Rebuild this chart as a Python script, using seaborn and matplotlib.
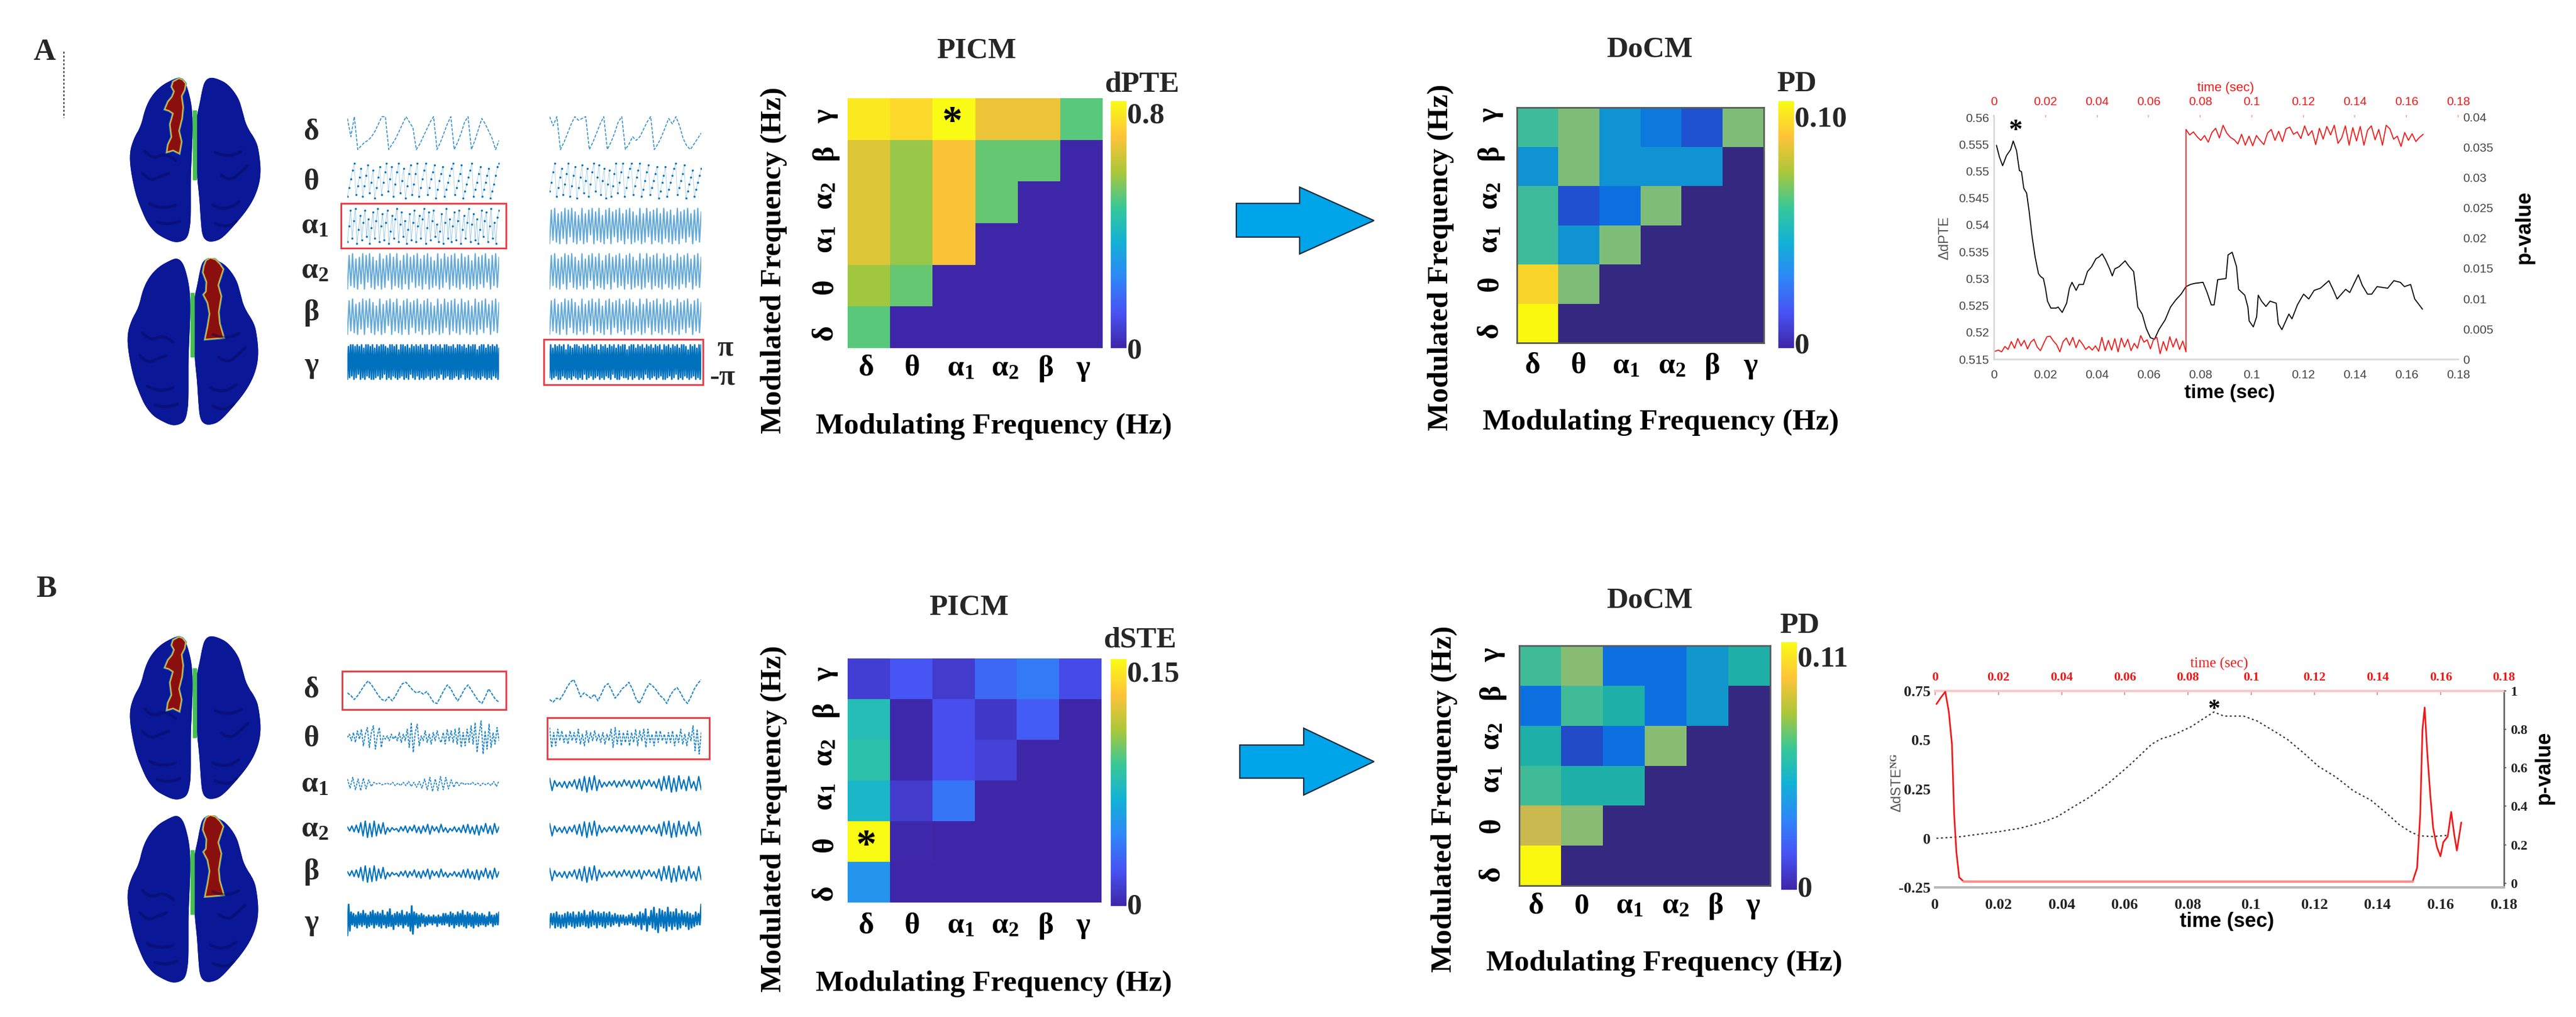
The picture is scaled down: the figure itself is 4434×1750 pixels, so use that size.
import numpy as np
import pandas as pd
import seaborn as sns
import matplotlib
matplotlib.use("Agg")
import matplotlib.pyplot as plt
from matplotlib.cm import ScalarMappable
from matplotlib.colors import LinearSegmentedColormap, Normalize
from matplotlib.patches import Rectangle, Polygon

# ---------- heatmap values (rows top to bottom: gamma..delta) ----------
x_bands = ["δ", "θ", r"$\mathrm{\alpha_1}$", r"$\mathrm{\alpha_2}$", "β", "γ"]
x_bands_b = ["δ", "0", r"$\mathrm{\alpha_1}$", r"$\mathrm{\alpha_2}$", "β", "γ"]
y_bands = ["γ", "β", r"$\mathrm{\alpha_2}$", r"$\mathrm{\alpha_1}$", "θ", "δ"]

picm_a = [[.76, .73, .80, .66, .66, .49],
          [.64, .55, .68, .50, .50, 0],
          [.64, .55, .68, .50, 0, 0],
          [.64, .55, .68, 0, 0, 0],
          [.56, .50, 0, 0, 0, 0],
          [.49, 0, 0, 0, 0, 0]]
docm_a = [[.056, .066, .036, .028, .016, .066],
          [.036, .066, .036, .036, .036, 0],
          [.056, .015, .025, .066, 0, 0],
          [.056, .036, .066, 0, 0, 0],
          [.093, .066, 0, 0, 0, 0],
          [.100, 0, 0, 0, 0, 0]]
picm_b = [[.012, .0225, .0105, .030, .0375, .018],
          [.075, .0015, .0195, .009, .0255, 0],
          [.0795, .0015, .0195, .0135, 0, 0],
          [.069, .0105, .036, 0, 0, 0],
          [.150, .0015, 0, 0, 0, 0],
          [.0495, 0, 0, 0, 0, 0]]
docm_b = [[.062, .074, .0275, .0275, .042, .055],
          [.0275, .062, .055, .0275, .042, 0],
          [.055, .015, .0275, .074, 0, 0],
          [.062, .055, .055, 0, 0, 0],
          [.086, .074, 0, 0, 0, 0],
          [.110, 0, 0, 0, 0, 0]]

# ---------- time courses ----------
a_t = [.0010,.0021,.0034,.0049,.0065,.0075,.0088,.0099,.0107,.0116,.0127,.0137,.0148,.0160,.0173,.0181,.0192,.0200,.0208,.0221,.0241,.0249,.0265,.0282,.0293,.0303,.0319,.0330,.0347,.0363,.0379,.0396,.0407,.0420,.0433,.0449,.0459,.0469,.0485,.0509,.0522,.0542,.0550,.0558,.0575,.0591,.0607,.0623,.0640,.0664,.0685,.0705,.0726,.0745,.0762,.0778,.0811,.0827,.0843,.0854,.0868,.0900,.0908,.0924,.0941,.0949,.0973,.0985,.0990,.1006,.1019,.1025,.1038,.1055,.1071,.1095,.1103,.1117,.1144,.1156,.1177,.1201,.1221,.1242,.1266,.1299,.1315,.1331,.1364,.1380,.1413,.1429,.1449,.1465,.1486,.1527,.1551,.1576,.1592,.1616,.1632,.1662]
a_dpte = [.5548,.5527,.5510,.5529,.5540,.5556,.5538,.5501,.5499,.5468,.5459,.5424,.5379,.5340,.5309,.5304,.5300,.5282,.5258,.5245,.5245,.5247,.5237,.5254,.5282,.5293,.5278,.5289,.5289,.5313,.5322,.5337,.5340,.5346,.5335,.5318,.5305,.5318,.5322,.5333,.5324,.5313,.5282,.5247,.5234,.5207,.5190,.5187,.5205,.5223,.5247,.5260,.5271,.5285,.5289,.5291,.5293,.5274,.5251,.5251,.5298,.5300,.5344,.5349,.5322,.5280,.5269,.5247,.5221,.5210,.5229,.5269,.5258,.5248,.5258,.5254,.5216,.5205,.5234,.5225,.5251,.5271,.5262,.5278,.5282,.5296,.5280,.5262,.5280,.5274,.5307,.5287,.5271,.5271,.5285,.5282,.5296,.5293,.5285,.5289,.5262,.5243]
a_p_low = [1.3,1.5,1.2,2.1,1.6,2.9,1.8,3.4,2.2,3.1,1.7,2.8,3.3,2.0,1.4,2.6,3.7,3.8,3.0,2.4,1.2,2.9,3.5,2.3,3.6,1.9,3.2,2.5,1.6,2.1,1.5,2.2,1.3,3.6,1.4,3.1,1.5,3.4,1.2,3.5,2.0,3.3,1.4,2.6,1.8,3.9,2.8,3.2,1.7,3.3,3.6,0.9,2.9,1.4,3.7,2.0,3.4,1.6,3.0,1.2]
a_p_high = [38.0,37.1,37.6,36.8,36.2,37.0,35.9,37.5,38.2,36.6,38.7,37.4,36.7,36.3,35.6,37.2,35.4,36.9,35.3,37.0,36.2,35.5,37.4,38.0,36.2,37.7,36.0,38.1,38.4,37.2,37.6,36.5,38.6,37.0,37.8,35.5,38.2,36.4,38.5,37.1,38.7,35.7,36.6,38.6,35.4,38.3,36.1,38.5,35.4,37.9,38.6,36.3,38.0,35.4,38.7,38.1,36.4,36.9,35.2,37.5,36.2,37.3,36.0,36.7,37.2]
a_jump_t = .0745

b_t = [.0004,.0074,.0129,.0199,.0268,.0338,.0386,.0435,.0490,.0546,.0615,.0685,.0713,.0754,.0810,.0844,.0882,.0914,.0976,.1018,.1074,.1115,.1164,.1213,.1268,.1324,.1379,.1428,.1469,.1504,.1532,.1574,.1622]
b_dste = [.000,.007,.019,.033,.051,.081,.110,.158,.211,.277,.372,.479,.505,.526,.568,.604,.643,.622,.622,.598,.544,.503,.437,.366,.312,.241,.194,.128,.069,.033,.013,.009,.015]
b_p_t = [.0004,.0018,.0032,.0043,.0053,.0060,.0067,.0076,.0090,.1511,.1525,.1535,.1542,.1549,.1557,.1567,.1576,.1588,.1599,.1608,.1622,.1633,.1643,.1651,.1665]
b_p = [.932,.966,.996,.893,.723,.358,.164,.030,.009,.009,.079,.358,.796,.914,.686,.456,.286,.188,.140,.213,.243,.371,.249,.170,.316]

time_ticks = [0, .02, .04, .06, .08, .1, .12, .14, .16, .18]
time_labels = ["0", "0.02", "0.04", "0.06", "0.08", "0.1", "0.12", "0.14", "0.16", "0.18"]
a_left_ticks = [.515, .52, .525, .53, .535, .54, .545, .55, .555, .56]
a_left_labels = ["0.515", "0.52", "0.525", "0.53", "0.535", "0.54", "0.545", "0.55", "0.555", "0.56"]
a_right_ticks = [0, .005, .01, .015, .02, .025, .03, .035, .04]
a_right_labels = ["0", "0.005", "0.01", "0.015", "0.02", "0.025", "0.03", "0.035", "0.04"]
b_left_ticks = [-.25, 0, .25, .5, .75]
b_left_labels = ["-0.25", "0", "0.25", "0.5", "0.75"]
b_right_ticks = [0, .2, .4, .6, .8, 1]
b_right_labels = ["0", "0.2", "0.4", "0.6", "0.8", "1"]

# ---------- phase / amplitude traces, scale -10..10 ----------
pa_delta_l = [8,-2,9,-9,-7,-5,-4,-2,1,5,9,9,-9,-6,-3,1,5,9,6,3,-9,-6,-2,2,6,9,-9,-5,0,5,9,-9,-5,0,6,9,-9,-4,2,8,5,1,-3,-9,-4]
pa_delta_r = [9,4,9,-9,-5,0,5,9,7,8,9,-9,-5,0,5,9,-9,-5,0,6,9,-9,-6,-2,-4,-2,2,6,9,-9,-6,-2,3,8,5,9,4,-3,-7,-9,-6,-3,0]
pa_theta_l = [-9,-4,1,6,10,-8,-3,2,7,-9,-3,3,9,-7,-1,6,-10,-4,2,8,-8,-1,5,10,-6,1,8,-9,-2,5,10,-7,0,7,-10,-3,4,9,-8,-2,4,10,-9,-4,1,6,10,-8,-4,1,5,9,-10,-5,0,4,8,-9,-5,-1,3,7,10,-8,-4,0,4,9,-10,-6,-2,2,6,10,-9,-5,-1,4,8,-9,-5,-1,3,7,-10,-6,-2,3,8,10]
pa_theta_r = [-6,-1,5,10,-9,-4,2,7,-8,-2,4,10,-9,-3,3,8,-10,-4,2,9,-7,0,7,-9,-2,5,10,-6,2,9,-8,0,7,-10,-2,6,-9,-3,4,10,-7,-1,5,10,-9,-4,2,7,10,-8,-3,2,6,10,-9,-5,0,5,9,-8,-4,0,4,8,-10,-6,-1,3,8,-9,-5,-1,3,7,10,-8,-4,0,4,9,-10,-6,-2,2,6,-9,-5,-1,3,7]
pa_alpha1_l = [-9,0,9,-7,3,10,-10,-2,6,-8,2,9,-6,4,-10,-1,8,-7,3,10,-9,0,7,-8,2,9,-10,-3,6,-7,4,10,-9,1,8,-6,3,-10,-2,7,-8,2,9,-9,0,6,-7,4,10,-10,-1,8,-8,3,9,-6,1,-9,-3,7,-10,2,10,-7,4,-9,0,8,-8,3,9,-10,-2,6,-7,2,10,-9,1,7,-8,4,-10,-2,9,-6,3,8,-9,0,10,-7,2,-10,5,9]
pa_alpha2 = [-10,9,-8,10,-9,7,-10,8,-7,10,-10,9,-6,10,-9,8,-10,6,-8,10,-10,7,-9,9,-5,10,-10,8,-8,10,-9,6,-10,9,-7,10,-10,8,-6,9,-9,10,-8,7,-10,9,-7,10,-10,8,-9,6,-8,10,-10,7,-9,10,-6,8,-10,9,-8,10,-9,7,-10,10,-7,8,-9,9,-10,6,-8,10,-10,8,-7,9,-9,10,-6,7,-10,9,-8,10,-9,8]
pa_gamma_l = [-10,9,-9,10,-8,10,-10,9,-9,10,-7,9,-10,10,-9,8,-10,10,-8,10,-9,9,-10,10,-10,8,-9,10,-8,9,-10,10,-9,10,-7,9,-10,8,-9,10,-10,10,-8,9,-9,10,-10,7,-9,10,-8,10,-10,9,-9,10,-10,8,-7,10,-9,9,-10,10,-8,9,-10,10,-9,8,-10,10,-9,10,-8,7,-10,10,-9,9,-8,10,-10,9,-9,10,-7,8,-10,10,-9,10,-8,9,-10,9,-10,10,-9,8,-8,10,-10,10,-9,9,-7,10,-10,8,-9,10,-10,9,-8,10,-9,10,-10,7,-9,9,-10,10,-8,10,-9,8,-10,10,-9,9,-10,10,-8,9,-9,10,-10,8]
pa_gamma_r = [-9,10,-10,8,-9,10,-8,9,-10,10,-10,9,-8,10,-9,7,-10,10,-9,9,-10,8,-8,10,-9,10,-10,9,-9,8,-10,10,-7,9,-10,10,-9,8,-8,10,-10,9,-9,10,-8,7,-10,10,-9,9,-10,10,-8,8,-9,10,-10,9,-7,10,-9,8,-10,10,-10,9,-8,10,-9,10,-9,7,-10,9,-8,10,-10,10,-9,8,-8,10,-10,9,-9,10,-10,8,-7,10,-9,9,-10,10,-9,8,-8,10,-10,9,-9,10,-8,7,-10,10,-10,9,-9,10,-8,8,-10,10,-9,9,-7,10,-10,8,-9,10,-10,10,-8,9,-9,7,-10,10,-9,9,-8,10,-10,8,-9,10,-10,10]

pb_delta_l = [-1,-3,-6,-3,1,5,8,5,1,-3,-6,-7,-4,-7,-3,2,6,7,4,1,-1,0,-2,0,-4,-8,-9,-4,1,5,2,-3,-7,-3,2,5,1,-3,-7,-9,-4,2,-2,-6,-8]
pb_delta_r = [-6,-8,-5,-6,-2,3,7,9,3,-4,-1,-3,-5,-2,-7,-2,4,6,1,-5,-2,2,4,7,2,-5,-9,-4,2,6,4,1,-3,-5,-9,-3,1,3,-1,-6,-9,-4,2,6,9]
pb_theta_l = [0,2,-2,3,-3,4,-1,5,-5,2,6,-6,3,7,-7,1,6,-6,1,-1,1,-2,2,-1,1,-2,3,-3,2,-2,5,-6,9,-9,3,8,-5,1,-2,4,-3,2,-4,3,-2,4,-1,-3,3,-4,5,-2,4,-3,5,-4,6,-6,3,-5,5,-3,7,-4,9,-9,2,10,-10,4,-7,8,-6,3,-4,6,-2]
pb_theta_r = [6,-6,3,-5,5,-2,4,-3,2,-4,4,-2,3,-3,5,-4,2,-5,4,-3,3,-2,4,-2,2,-3,3,-4,2,-2,5,-6,6,-4,4,-5,3,-3,4,-5,3,-3,5,-5,4,-2,5,-6,5,-3,2,-5,4,-3,4,-2,2,-4,3,-3,4,-5,2,-3,5,-4,2,-5,3,-2,7,-8,5,-10,3]
pb_alpha1_l = [6,-5,8,-7,6,-8,7,-6,5,-3,2,0,1,-1,0,1,-1,2,-2,1,-2,2,-2,3,-3,2,-4,3,-5,6,-7,8,-9,6,-8,9,-7,8,-6,5,-4,3,-2,2,-1,1,-1,2,-1,1,-2,1,-1,1,-2,3,-3,4]
pb_alpha2_l = [3,-2,4,-3,5,-4,8,-8,10,-10,7,-9,10,-8,6,-5,8,-6,2,-3,2,-1,1,-3,3,-2,4,-4,3,-2,5,-4,3,-5,4,-3,6,-6,4,-2,3,-4,6,-3,2,-4,1,-2,3,-3,2,-4,5,-4,6,-5,3,-6,5,-7,4,-3,7,-5,4,-6,7,-4,3]
pb_alpha_r = [7,-8,4,-3,2,-4,3,-5,3,-3,5,-6,6,-8,9,-10,8,-7,10,-8,5,-4,2,-3,3,-2,4,-4,3,-3,5,-2,4,-5,4,-3,5,-6,4,-2,5,-3,3,-5,6,-8,9,-6,10,-10,7,-9,10,-6,5,-8,9,-5,3,-8,9,-7]
pb_gamma_l = [-10,10,-7,5,-3,4,-4,3,-5,5,-3,4,-4,6,-3,4,-5,3,-4,5,-3,6,-5,4,-3,5,-4,4,-5,6,-3,3,-5,5,-4,7,-4,3,-6,4,-3,5,-4,4,-3,6,-5,3,-3,5,-4,4,-7,9,-9,5,-3,4,-5,3,-4,4,-2,3,-4,2,-3,3,-2,2,-3,3,-2,2,-4,3,-2,2,-3,4,-3,4,-2,3,-4,5,-3,4,-5,3,-3,5,-4,4,-3,6,-4,3,-5,5,-3,4,-4,3,-5,5,-3,4,-4,3,-3,4,-3,3,-4,2,-3,5,-2,3,-4,3,-3,4,-3,5]
pb_gamma_r = [-5,4,-3,4,-5,5,-4,3,-5,3,-4,4,-5,5,-3,4,-4,5,-5,3,-4,5,-4,4,-3,6,-4,3,-5,5,-4,6,-3,4,-5,5,-3,4,-4,5,-5,4,-3,5,-4,3,-3,4,-2,3,-4,3,-2,3,-3,2,-3,3,-2,4,-3,2,-4,3,-3,5,-6,4,-3,7,-7,2,-3,6,-5,8,-6,4,-8,7,-4,6,-5,5,-7,8,-4,5,-6,5,-4,7,-6,4,-5,6,-3,4,-4,5,-6,4,-5,3,-4,5,-3,4,-3,10]

# ---------- brain outlines (illustration, box 253 x 525) ----------
hem_l_x = [95,82,60,42,30,22,8,0,2,12,25,35,50,65,85,100,112,117,118,118,118,120,122,120,112,105]
hem_l_y = [0,8,28,60,100,155,195,240,295,375,430,465,495,510,525,523,510,470,435,375,315,240,155,90,35,10]
hem_r_x = [155,145,140,135,130,128,129,130,133,135,137,140,150,165,180,205,225,240,250,253,250,245,225,218,210,190,170]
hem_r_y = [0,12,40,85,120,155,240,315,360,395,450,505,523,522,510,465,425,385,340,295,245,205,155,110,65,22,5]
red_top_x = [95,84,81,86,82,74,68,76,84,78,81,74,72,84,96,100,95,101,103,100,106,108,102]
red_top_y = [4,14,30,45,62,78,102,106,115,150,190,215,238,232,242,205,170,130,95,60,40,20,8]
red_bot_x = [160,152,148,146,153,152,147,155,159,155,150,172,186,178,176,181,175,181,185,178,170]
red_bot_y = [0,8,25,45,75,105,115,140,175,215,255,252,250,205,170,120,85,55,35,18,5]
sulcus_x = [[15,40,60,85],[20,45,70,100],[165,195,215,235],[150,190,230],[25,60,105],[145,185,225],[40,75,110],[150,190,215]]
sulcus_y = [[290,330,315,300],[220,260,240,280],[300,330,300,270],[230,255,225],[390,420,400],[395,425,380],[455,470,450],[455,480,445]]
doc_stops = [0, .15, .25, .36, .5, .56, .66, .78, .93, 1]
doc_colors = ["#352880", "#2050d0", "#0d70e0", "#0f93d2", "#1db0a8", "#3dbb9a", "#7fbd78", "#c8b850", "#f8d22a", "#fbf80f"]

# ---------- set-up ----------
W, H = 4434, 1750
sns.set_theme(style="white")
plt.rcParams["font.family"] = ["Liberation Serif", "DejaVu Sans"]
plt.rcParams["font.weight"] = "bold"
plt.rcParams["mathtext.fontset"] = "custom"
plt.rcParams["mathtext.rm"] = "Liberation Serif:bold"
plt.rcParams["mathtext.it"] = "Liberation Serif:italic:bold"
plt.rcParams["mathtext.bf"] = "Liberation Serif:bold"

fig = plt.figure(figsize=(W / 100, H / 100), dpi=100, facecolor="white")


def axpx(x0, y0, x1, y1, **kw):
    return fig.add_axes([x0 / W, 1 - y1 / H, (x1 - x0) / W, (y1 - y0) / H], **kw)


ov = axpx(0, 0, W, H)
ov.set_xlim(0, W)
ov.set_ylim(H, 0)
ov.axis("off")
ov.set_zorder(10)
ov.patch.set_alpha(0)

parula = LinearSegmentedColormap.from_list("parula", [
    (0.2422, 0.1504, 0.6603), (0.2810, 0.3228, 0.9579), (0.1786, 0.5289, 0.9682),
    (0.0689, 0.6948, 0.8394), (0.2161, 0.7843, 0.5923), (0.6720, 0.7793, 0.2227),
    (0.9970, 0.7659, 0.2199), (0.9769, 0.9839, 0.0805)])
doc_cmap = LinearSegmentedColormap.from_list("docm", list(zip(doc_stops, doc_colors)))


def heat(vals, box, cbox, vmax, xlabs, xt_px, xt_y, yt_px, yt_x, xl, yl, title, cname, cname_xy,
         toplab, top_frac, zero_frac, frame):
    x0, y0, x1, y1 = box
    ax = axpx(*box)
    cax = axpx(*cbox)
    df = pd.DataFrame(vals, index=y_bands, columns=range(6))
    sns.heatmap(df, ax=ax, cbar=False, cmap=doc_cmap if frame else parula, vmin=0, vmax=vmax, linewidths=0)
    ax.set_xticks([(p - x0) / (x1 - x0) * 6 for p in xt_px])
    ax.set_xticklabels(xlabs, fontsize=37, rotation=0, color="black")
    ax.set_yticks([(p - y0) / (y1 - y0) * 6 for p in yt_px])
    ax.set_yticklabels(y_bands, fontsize=37, rotation=90, va="center", color="black")
    ax.tick_params(axis="x", length=0, pad=(xt_y - y1 - 22) * .72)
    ax.tick_params(axis="y", length=0, pad=(x0 - yt_x - 22) * .72)
    ax.set_xlabel("Modulating Frequency (Hz)", fontsize=37, fontweight="bold", va="center", color="black")
    ax.xaxis.set_label_coords(xl[0], xl[1], transform=ov.transData)
    ax.set_ylabel("Modulated Frequency (Hz)", fontsize=37, fontweight="bold", va="center", ha="center", color="black")
    ax.yaxis.set_label_coords(yl[0], yl[1], transform=ov.transData)
    ov.text(title[1], title[2], title[0], fontsize=37, fontweight="bold", ha="center", va="center")
    ov.text(cname_xy[0], cname_xy[1], cname, fontsize=37, fontweight="bold", ha="center", va="center")
    if frame:
        for s in ax.spines.values():
            s.set_visible(True)
            s.set_color("#5a5a5a")
            s.set_linewidth(2)
    cb = fig.colorbar(ScalarMappable(Normalize(0, vmax), cmap=parula), cax=cax)
    cb.set_ticks([zero_frac * vmax, top_frac * vmax])
    cb.set_ticklabels(["0", toplab])
    cb.ax.tick_params(length=0, pad=1, labelsize=37)
    cb.outline.set_visible(False)
    return ax


heat(picm_a, (1459, 169, 1898, 599), (1912, 174, 1939, 599), .8, x_bands,
     [1490, 1570, 1654, 1730, 1800, 1864], 633, [200, 263, 337, 412, 493, 573], 1421,
     (1711, 734), (1332, 448), ("PICM", 1681, 87), "dPTE", (1966, 145), "0.8", .953, .0, False)
heat(docm_a, (2611, 185, 3036, 590), (3061, 174, 3088, 599), .10, x_bands,
     [2638, 2717, 2799, 2878, 2947, 3013], 629, [198, 263, 337, 412, 488, 569], 2566,
     (2859, 727), (2480, 443), ("DoCM", 2839, 85), "PD", (3092, 145), "0.10", .94, .02, True)
heat(picm_b, (1459, 1133, 1896, 1553), (1912, 1134, 1939, 1559), .15, x_bands,
     [1490, 1570, 1654, 1730, 1800, 1864], 1592, [1160, 1220, 1295, 1371, 1453, 1537], 1421,
     (1711, 1693), (1332, 1409), ("PICM", 1668, 1045), "dSTE", (1963, 1101), "0.15", .95, .01, False)
heat(docm_b, (2615, 1111, 3047, 1524), (3066, 1105, 3093, 1531), .11, x_bands_b,
     [2644, 2723, 2805, 2884, 2953, 3017], 1558, [1127, 1190, 1267, 1341, 1420, 1504], 2569,
     (2865, 1658), (2486, 1375), ("DoCM", 2839, 1033), "PD", (3097, 1077), "0.11", .944, .014, True)

ov.text(1638, 213, "*", fontsize=50, ha="center", va="center", color="black")
ov.text(1490, 1458, "*", fontsize=50, ha="center", va="center", color="black")

# ---------- arrows ----------
for x0, xb, xt, ys0, ys1, yh0, yh1 in [(2128, 2237, 2365, 350, 408, 322, 437),
                                       (2134, 2244, 2365, 1282, 1339, 1253, 1368)]:
    ov.add_patch(Polygon([(x0, ys0), (xb, ys0), (xb, yh0), (xt, (yh0 + yh1) / 2), (xb, yh1), (xb, ys1), (x0, ys1)],
                         closed=True, facecolor="#00a4e8", edgecolor="#1a2a3a", linewidth=1.6))


# ---------- brains ----------
def soften(xs, ys, closed=True, rounds=2):
    p = np.column_stack([xs, ys]).astype(float)
    for _ in range(rounds):
        q = np.roll(p, -1, axis=0) if closed else p[1:]
        a = p if closed else p[:-1]
        p = np.vstack([np.column_stack([.75 * a + .25 * q]), np.column_stack([.25 * a + .75 * q])])
        order = np.argsort(np.r_[np.arange(len(a)) * 2, np.arange(len(a)) * 2 + 1])
        p = p[order]
    return p


def brain(x0, y0, x1, y1, red_x, red_y, green):
    ax = axpx(x0, y0, x1, y1)
    ax.axis("off")
    grad = np.array([[0.0], [0.6], [0.82], [1.0]])
    navy = LinearSegmentedColormap.from_list("navy", ["#0a1796", "#0a1488", "#050f60", "#000838"])
    for hx, hy in [(hem_l_x, hem_l_y), (hem_r_x, hem_r_y)]:
        p = Polygon(soften(hx, hy), closed=True, facecolor="#0a1796", edgecolor="none")
        ax.add_patch(p)
        im = ax.imshow(grad, extent=(0, 253, 525, 0), aspect="auto", cmap=navy, interpolation="bilinear")
        im.set_clip_path(p)
    for sx, sy in zip(sulcus_x, sulcus_y):
        s = soften(sx, sy, closed=False)
        ax.plot(s[:, 0], s[:, 1], color="#03094e", lw=3.5, alpha=.4, solid_capstyle="round")
    ax.fill([green[0], green[1], green[1], green[0]], [green[2], green[2], green[3], green[3]], color="#45c050")
    ax.add_patch(Polygon(list(zip(red_x, red_y)), closed=True, facecolor="none", edgecolor="#30a8c8", linewidth=3.0))
    ax.add_patch(Polygon(list(zip(red_x, red_y)), closed=True, facecolor="#8a1010", edgecolor="#e8b030", linewidth=1.4))
    ax.set_xlim(0, 253)
    ax.set_ylim(525, 0)


brain(223, 133, 449, 417, red_top_x, red_top_y, (122, 129, 105, 325))
brain(219, 444, 445, 732, red_bot_x, red_bot_y, (122, 129, 110, 310))
brain(223, 1094, 449, 1376, red_top_x, red_top_y, (122, 129, 105, 325))
brain(219, 1403, 445, 1691, red_bot_x, red_bot_y, (122, 129, 110, 310))


# ---------- traces ----------
def trace(vals, x0, x1, yc, hh, lw=1.0, ls="-", dots=False, alpha=1.0):
    ax = axpx(x0, yc - hh, x1, yc + hh)
    ax.axis("off")
    sns.lineplot(x=list(range(len(vals))), y=vals, ax=ax, color="#0072bd", lw=lw, ls=ls, alpha=alpha,
                 estimator=None, sort=False, legend=False)
    if dots:
        ax.plot(range(len(vals)), vals, ls="none", marker="o", ms=2.6, color="#0072bd", mew=0)
    ax.set_xlim(0, len(vals) - 1)
    ax.set_ylim(-10.5, 10.5)


LX0, LX1, RX0, RX1 = 598, 859, 946, 1207
a_rows = [229, 311, 389, 467, 545, 623]
trace(pa_delta_l, LX0, LX1, a_rows[0], 33, lw=1.2, ls=(0, (3, 1.5)), alpha=.8)
trace(pa_delta_r, RX0, RX1, a_rows[0], 33, lw=1.2, ls=(0, (3, 1.5)), alpha=.8)
trace(pa_theta_l, LX0, LX1, a_rows[1], 31, lw=.7, dots=True, alpha=.3)
trace(pa_theta_r, RX0, RX1, a_rows[1], 31, lw=.7, dots=True, alpha=.3)
trace(pa_alpha1_l, LX0, LX1, a_rows[2], 32, lw=.8, dots=True, alpha=.35)
trace(pa_alpha2, RX0, RX1, a_rows[2], 32, lw=1.6, alpha=.6)
for r in (3, 4):
    trace(pa_alpha2, LX0, LX1, a_rows[r], 32, lw=1.6, alpha=.6)
    trace(pa_alpha2, RX0, RX1, a_rows[r], 32, lw=1.6, alpha=.6)
trace(pa_gamma_l, LX0, LX1, a_rows[5], 31, lw=2.0)
trace(pa_gamma_r, RX0, RX1, a_rows[5], 31, lw=2.0)

b_rows = [1190, 1269, 1349, 1427, 1504, 1583]
b_half = [24, 30, 15, 15, 15, 28]
trace(pb_delta_l, LX0, LX1, b_rows[0], b_half[0], lw=1.5, ls=(0, (2.5, 1)), alpha=.85)
trace(pb_delta_r, RX0, RX1, b_rows[0], b_half[0], lw=1.5, ls=(0, (2.5, 1)), alpha=.85)
trace(pb_theta_l, LX0, LX1, b_rows[1], b_half[1], lw=1.4, ls=(0, (2, 1)), alpha=.85)
trace(pb_theta_r, RX0, RX1, b_rows[1], b_half[1], lw=1.4, ls=(0, (2, 1)), alpha=.85)
trace(pb_alpha1_l, LX0, LX1, b_rows[2], b_half[2], lw=1.3, ls=(0, (2, 1)), alpha=.85)
trace(pb_alpha_r, RX0, RX1, b_rows[2], b_half[2], lw=1.6)
for r in (3, 4):
    trace(pb_alpha2_l, LX0, LX1, b_rows[r], b_half[r], lw=1.6)
    trace(pb_alpha_r, RX0, RX1, b_rows[r], b_half[r], lw=1.6)
trace(pb_gamma_l, LX0, LX1, b_rows[5], b_half[5], lw=2.2)
trace(pb_gamma_r, RX0, RX1, b_rows[5], b_half[5], lw=2.2)

# row labels, boxes, panel letters
row_labels = ["δ", "θ", r"$\mathrm{\alpha_1}$", r"$\mathrm{\alpha_2}$", "β", "γ"]
for lab, y, yb in zip(row_labels, [228, 313, 389, 466, 539, 629], [1187, 1271, 1350, 1427, 1501, 1588]):
    xx = 536 if len(lab) == 1 else 542
    ov.text(xx, y, lab, fontsize=37, ha="center", va="center")
    ov.text(xx, yb, lab, fontsize=37, ha="center", va="center")
ov.text(1248, 599, "π", fontsize=36, ha="center", va="center")
ov.text(1243, 650, "-π", fontsize=36, ha="center", va="center")
for x0, y0, x1, y1 in [(587, 350, 871, 427), (936, 584, 1210, 662), (589, 1155, 871, 1221), (942, 1235, 1221, 1306)]:
    ov.add_patch(Rectangle((x0, y0), x1 - x0, y1 - y0, fill=False, edgecolor="#e8404a", linewidth=2.2))
ov.text(77, 90, "A", fontsize=38, ha="center", va="center")
ov.text(80, 1014, "B", fontsize=38, ha="center", va="center")
ov.plot([110, 110], [89, 203], color="black", lw=1.2, ls=(0, (2, 2)))


# ---------- time course A ----------
sans = ["Liberation Sans", "DejaVu Sans"]
ax = axpx(3432, 202, 4231, 618)
sns.lineplot(x=a_t, y=a_dpte, ax=ax, color="black", lw=1.3, estimator=None, sort=False, legend=False)
ax.set_xlim(0, .18)
ax.set_ylim(.515, .56)
for s in ("top", "right"):
    ax.spines[s].set_visible(False)
for s in ("left", "bottom"):
    ax.spines[s].set_color("#d8d8d8")
    ax.spines[s].set_linewidth(2)
ax.set_xticks(time_ticks)
ax.set_xticklabels(time_labels, family=sans, fontsize=15, fontweight="normal", color="#444444")
ax.set_yticks(a_left_ticks)
ax.set_yticklabels(a_left_labels, family=sans, fontsize=15, fontweight="normal", color="#444444")
ax.tick_params(axis="x", length=3, pad=10, color="#888888")
ax.tick_params(axis="y", length=0, pad=6)
ax.set_xlabel("time (sec)", family=sans, fontsize=24, fontweight="bold", va="center", color="black")
ax.xaxis.set_label_coords(3838, 676, transform=ov.transData)
ax.set_ylabel("ΔdPTE", family=sans, fontsize=17, fontweight="normal", va="center", ha="center", color="#555555")
ax.yaxis.set_label_coords(3347, 410, transform=ov.transData)
ax.text(.0083, .5574, "*", fontsize=34, ha="center", va="center", color="black")
axr = ax.twinx()
a_pt = list(np.linspace(.0005, a_jump_t, len(a_p_low))) + list(np.linspace(a_jump_t, .1665, len(a_p_high)))
a_pv = [v / 1000 for v in a_p_low + a_p_high]
sns.lineplot(x=a_pt, y=a_pv, ax=axr, color="#f01818", lw=1.3, estimator=None, sort=False, legend=False)
axr.set_ylim(0, .04)
axr.set_xlim(0, .18)
for s in axr.spines.values():
    s.set_visible(False)
axr.set_yticks(a_right_ticks)
axr.set_yticklabels(a_right_labels, family=sans, fontsize=15, fontweight="normal", color="#444444")
axr.tick_params(axis="y", length=0, pad=6)
axr.set_ylabel("p-value", family=sans, fontsize=26, fontweight="bold", va="center", ha="center", color="black")
axr.yaxis.set_label_coords(4345, 391, transform=ov.transData)
top = ax.secondary_xaxis("top")
top.set_xticks(time_ticks)
top.set_xticklabels(time_labels, family=sans, fontsize=15, fontweight="normal", color="#f01818")
top.tick_params(axis="x", length=3, pad=9, color="#f8a0a0")
top.spines["top"].set_visible(False)
top.set_xlabel("time (sec)", family=sans, fontsize=16, fontweight="normal", color="#f01818", va="center")
top.xaxis.set_label_coords(3831, 152, transform=ov.transData)

# ---------- time course B ----------
ax = axpx(3331, 1189, 4310, 1527)
sns.lineplot(x=b_t, y=b_dste, ax=ax, color="#333333", lw=1.6, ls=(0, (1.5, 2)), estimator=None, sort=False, legend=False)
ax.set_xlim(0, .18)
ax.set_ylim(-.25, .75)
ax.spines["top"].set_color("#f8c8c8")
ax.spines["top"].set_linewidth(3)
ax.spines["left"].set_visible(False)
ax.spines["bottom"].set_color("#b8b8b8")
ax.spines["bottom"].set_linewidth(3)
ax.spines["right"].set_color("#666666")
ax.spines["right"].set_linewidth(2)
ax.set_xticks(time_ticks)
ax.set_xticklabels(time_labels, fontsize=19, color="#222222")
ax.set_yticks(b_left_ticks)
ax.set_yticklabels(b_left_labels, fontsize=19, color="#222222")
ax.tick_params(axis="x", length=5, pad=9, color="#777777")
ax.tick_params(axis="y", length=0, pad=6)
ax.set_xlabel("time (sec)", family=sans, fontsize=25, fontweight="bold", va="center", color="black")
ax.xaxis.set_label_coords(3833, 1586, transform=ov.transData)
ax.set_ylabel(r"ΔdSTE$^{\mathrm{NG}}$", family=sans, fontsize=17, fontweight="normal", va="center", ha="center", color="#555555")
ax.yaxis.set_label_coords(3267, 1347, transform=ov.transData)
ax.text(.0882, .652, "*", fontsize=30, ha="center", va="center", color="black")
axr = ax.twinx()
sns.lineplot(x=b_p_t, y=b_p, ax=axr, color="#f01818", lw=2, estimator=None, sort=False, legend=False)
sns.lineplot(x=[b_p_t[8], b_p_t[9]], y=[b_p[8], b_p[9]], ax=axr, color="#f89090", lw=3, estimator=None, legend=False)
axr.set_ylim(-.022, 1)
axr.set_xlim(0, .18)
for s in axr.spines.values():
    s.set_visible(False)
axr.set_yticks(b_right_ticks)
axr.set_yticklabels(b_right_labels, fontsize=17, color="#222222")
axr.tick_params(axis="y", length=3, pad=5, color="#555555")
axr.set_ylabel("p-value", family=sans, fontsize=26, fontweight="bold", va="center", ha="center", color="black")
axr.yaxis.set_label_coords(4379, 1321, transform=ov.transData)
top = ax.secondary_xaxis("top")
top.set_xticks(time_ticks)
top.set_xticklabels(time_labels, fontsize=16, color="#f01818")
top.tick_params(axis="x", length=5, direction="in", pad=9, color="#f08080")
top.spines["top"].set_visible(False)
top.set_xlabel("time (sec)", fontsize=18, color="#f01818", va="center")
top.xaxis.set_label_coords(3820, 1142, transform=ov.transData)

fig.savefig("out.png", dpi=100, facecolor="white")
